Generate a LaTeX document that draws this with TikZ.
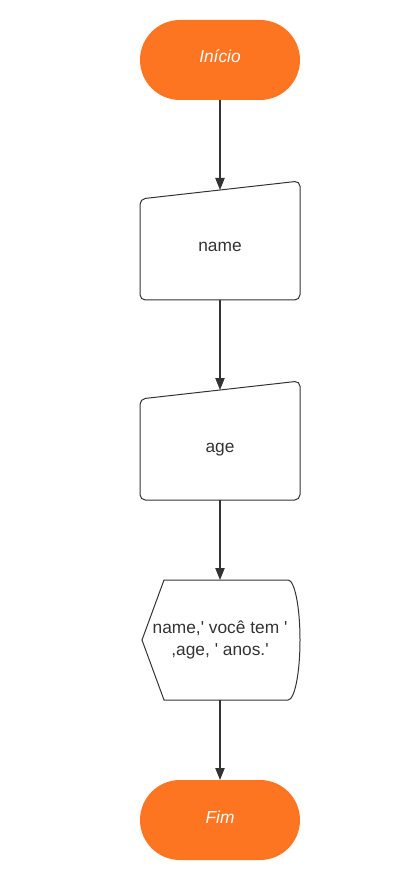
\documentclass[tikz,border=0pt]{standalone}
\usepackage{fontspec}
\setmainfont{Liberation Sans}
\usetikzlibrary{arrows.meta}
\definecolor{laranja}{HTML}{FE7521}
\definecolor{traco}{HTML}{333333}

\begin{document}
\begin{tikzpicture}[x=0.75pt,y=-0.75pt,
  terminal/.style={fill=laranja,rounded corners=30pt,minimum width=120pt,minimum height=60pt,
    inner sep=0,outer sep=0,text height=9pt,text depth=2.5pt,text=white,font=\itshape\fontsize{13}{15}\selectfont},
  caixa/.style={minimum width=120pt,inner sep=0,outer sep=0,text=traco,font=\fontsize{13}{16.5}\selectfont,align=center},
  contorno/.style={draw=traco,line width=0.75pt},
  seta/.style={draw=traco,line width=0.9pt,-{Triangle[length=9pt,width=7pt]}}]
\useasboundingbox (0,0) rectangle (412,887);
% inicio e fim
\node[terminal] (ini) at (220,60) {\raisebox{1.5pt}[\height][\depth]{Início}};
\node[terminal] (fim) at (220,820) {\raisebox{1pt}[\height][\depth]{Fim}};
% entradas manuais
\node[caixa,minimum height=82.5pt,text height=9pt,text depth=2.5pt] (in1) at (220,245) {\raisebox{-2pt}[\height][\depth]{name}};
\draw[contorno,rounded corners=4pt] ([yshift=-6.75pt]in1.north west) -- ([yshift=6.75pt]in1.north east)
  -- (in1.south east) -- (in1.south west) -- cycle;
\node[caixa,minimum height=82.5pt,text height=9pt,text depth=2.5pt] (in2) at (220,445) {\raisebox{-2pt}[\height][\depth]{age}};
\draw[contorno,rounded corners=4pt] ([yshift=-6.75pt]in2.north west) -- ([yshift=6.75pt]in2.north east)
  -- (in2.south east) -- (in2.south west) -- cycle;
% saida
\node[caixa,minimum height=90pt] (out) at (220,640)
  {name,\textquotesingle{} você tem \textquotesingle\\,age, \textquotesingle{} anos.\textquotesingle};
\draw[contorno] ([xshift=1.5pt]out.west) -- ([xshift=18pt]out.north west) -- ([xshift=-9pt]out.north east)
  arc[start angle=90,end angle=-90,x radius=9pt,y radius=45pt]
  -- ([xshift=18pt]out.south west) -- cycle;
% setas
\draw[seta] (ini) -- (in1);
\draw[seta] (in1) -- (in2);
\draw[seta] (in2) -- (out);
\draw[seta] (out) -- (fim);
\end{tikzpicture}
\end{document}
